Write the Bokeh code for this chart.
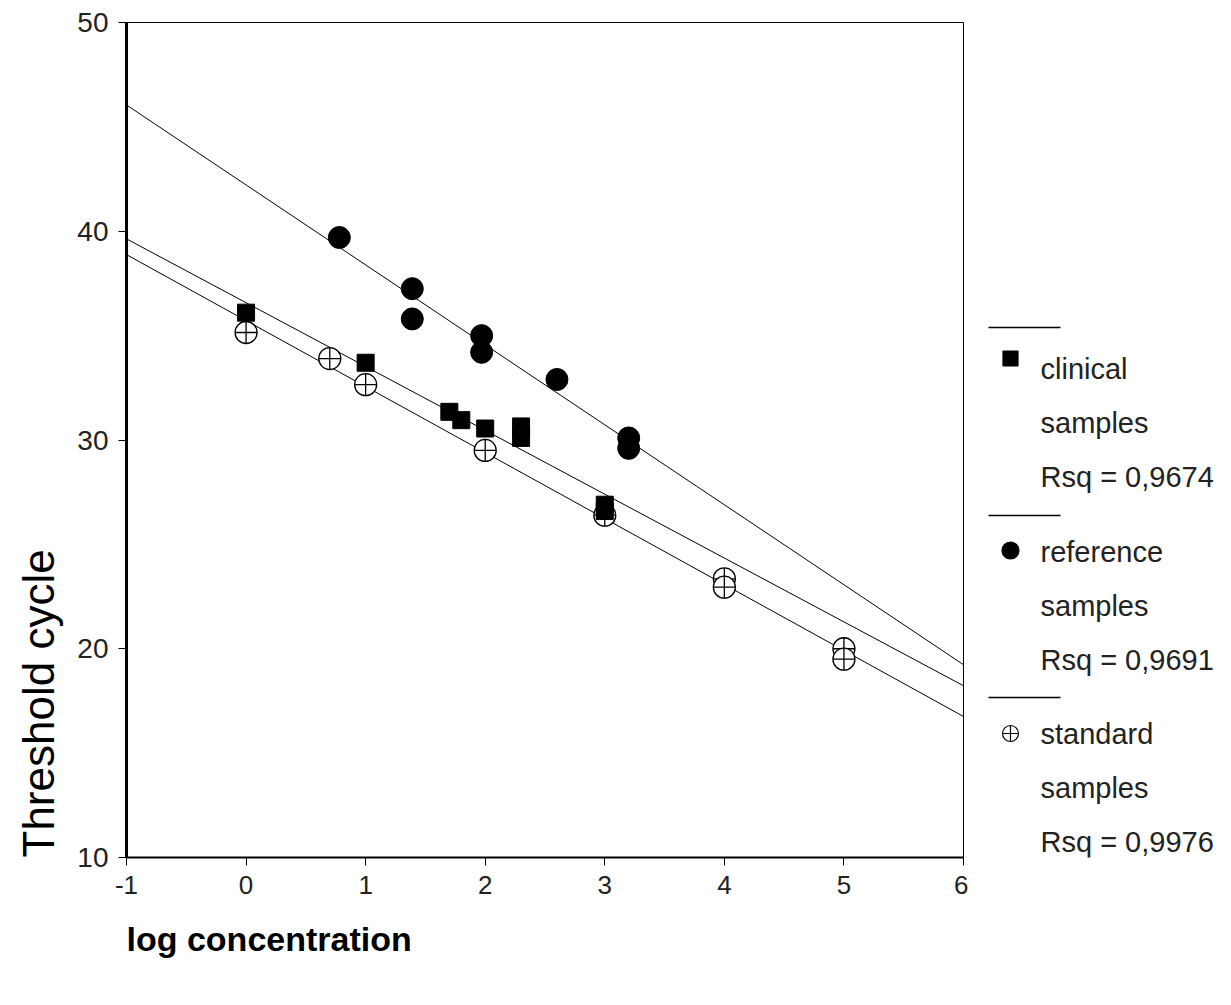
import numpy as np
from bokeh.plotting import figure
from bokeh.models import Range1d, FixedTicker, Title
from bokeh.layouts import row
from bokeh.embed import file_html
from bokeh.resources import INLINE
from bokeh.core.properties import value

# ---------------- data ----------------
clinical_x = [0, 1, 1.7, 1.8, 2.0, 2.3, 2.3, 3, 3]
clinical_y = [36.1, 33.7, 31.35, 30.95, 30.55, 30.65, 30.1, 26.9, 26.6]
reference_x = [0.78, 1.39, 1.39, 1.97, 1.97, 2.6, 3.2, 3.2]
reference_y = [39.7, 37.25, 35.8, 35.0, 34.2, 32.9, 30.1, 29.6]
standard_x = [0, 0.7, 1, 2, 3, 4, 4, 5, 5]
standard_y = [35.15, 33.9, 32.65, 29.5, 26.4, 23.35, 22.95, 20.0, 19.5]

series_names = ["clinical", "reference", "standard"]
series_sub = ["samples", "samples", "samples"]
rsq_labels = ["Rsq = 0,9674", "Rsq = 0,9691", "Rsq = 0,9976"]
x_ticks = [-1, 0, 1, 2, 3, 4, 5, 6]
y_ticks = [10, 20, 30, 40, 50]
x_label = "log concentration"
y_label = "Threshold cycle"

FONT = "Liberation Sans"
H = 989
TOP, BOTTOM, LEFT, RIGHT = 22, 132, 126, 5
W = 968
X0, X1, Y0, Y1 = -1, 6, 10, 50

# ---------------- main plot ----------------
p = figure(width=W, height=H,
           x_range=Range1d(X0, X1), y_range=Range1d(Y0, Y1),
           output_backend="svg", toolbar_location=None,
           min_border_left=LEFT, min_border_right=RIGHT,
           min_border_top=TOP, min_border_bottom=BOTTOM)
p.grid.visible = False
p.background_fill_color = "white"
p.border_fill_color = "white"
p.outline_line_color = "black"
p.outline_line_width = 1
p.outline_line_alpha = 1

xa, ya = p.xaxis[0], p.yaxis[0]
for ax in (xa, ya):
    ax.axis_line_color = "black"
    ax.major_tick_line_color = "black"
    ax.major_tick_out = 8
    ax.major_tick_in = 0
    ax.minor_tick_line_color = None
    ax.major_label_text_font = FONT
    ax.major_label_text_color = "#222222"

xa.ticker = FixedTicker(ticks=x_ticks)
xa.major_label_overrides = {t: str(t) for t in x_ticks}
ya.ticker = FixedTicker(ticks=y_ticks)
xa.axis_line_width = 2
ya.axis_line_width = 3
xa.major_label_text_font_size = "26px"
ya.major_label_text_font_size = "28px"
xa.major_label_standoff = 10
ya.major_label_standoff = 10

# axis titles (start at the frame's bottom-left corner, as in the reference)
p.add_layout(Title(text=y_label, align="left", vertical_align="top",
                   standoff=20, text_font=FONT, text_font_style="normal",
                   text_font_size="44px", text_color="black"), "left")
p.add_layout(Title(text=x_label, align="left", vertical_align="bottom",
                   standoff=42, text_font=FONT, text_font_style="bold",
                   text_font_size="34px", text_color="black"), "below")

# regression lines
fit_x = [X0, X1]
for xs, ys in ((reference_x, reference_y), (clinical_x, clinical_y), (standard_x, standard_y)):
    coef = np.polyfit(xs, ys, 1)
    p.line(fit_x, list(np.polyval(coef, fit_x)), line_color="black", line_width=1)

# points
p.scatter(standard_x, standard_y, marker="circle_cross", size=22,
          fill_color="white", line_color="black", line_width=1.3)
p.scatter(clinical_x, clinical_y, marker="square", size=17,
          fill_color="black", line_color="black")
p.scatter(reference_x, reference_y, marker="circle", size=22,
          fill_color="black", line_color="black")

# ---------------- legend panel ----------------
LW = 247
lg = figure(width=LW, height=H, x_range=Range1d(0, LW),
            y_range=Range1d(H - BOTTOM, TOP),
            output_backend="svg", toolbar_location=None,
            x_axis_type=None, y_axis_type=None,
            min_border_left=0, min_border_right=0,
            min_border_top=TOP, min_border_bottom=BOTTOM)
lg.grid.visible = False
lg.outline_line_color = None
lg.background_fill_color = "white"
lg.border_fill_color = "white"

block_top = [327, 515, 697]     # separator line of each legend block
marker_y = [358, 550, 733]
text_y0 = [368, 551, 733]
markers = ["square", "circle", "circle_cross"]
msizes = [15, 17, 16]
mfill = ["black", "black", "white"]
row_gap = 54
for i in range(3):
    t = block_top[i]
    lg.line([20, 92], [t, t], line_color="black", line_width=1.5)
    lg.scatter([42], [marker_y[i]], marker=markers[i], size=msizes[i],
               fill_color=mfill[i], line_color="black", line_width=1.2)
    y0 = text_y0[i]
    lg.text([72, 72, 72], [y0, y0 + row_gap, y0 + 2 * row_gap],
            text=[series_names[i], series_sub[i], rsq_labels[i]],
            text_font=value(FONT), text_font_size="29px",
            text_color="#222222", text_align="left", text_baseline="middle")

layout = row(p, lg)
open("out.html", "w").write(file_html(layout, INLINE))
